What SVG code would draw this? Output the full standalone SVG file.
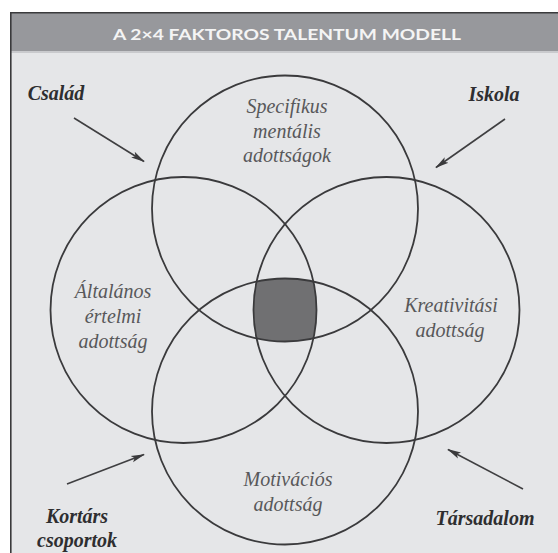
<svg xmlns="http://www.w3.org/2000/svg" width="558" height="553" viewBox="0 0 558 553">
<style>
.circle{fill:none;stroke:#3a3a3c;stroke-width:1.8}
.lbl{font-family:'Liberation Serif','Times New Roman',serif;font-style:italic;font-size:20px;fill:#58585a;text-anchor:middle}
.ext{font-family:'Liberation Serif','Times New Roman',serif;font-style:italic;font-weight:bold;font-size:20px;fill:#2e2e30;text-anchor:middle}
.arr{stroke:#3f3f41;stroke-width:1.6;fill:none;marker-end:url(#ah)}
</style>
<defs>
<marker id="ah" viewBox="0 0 14 8" refX="13" refY="4" markerWidth="14" markerHeight="8" markerUnits="userSpaceOnUse" orient="auto">
<path d="M0,0.6 L14,4 L0,7.4 L3,4 Z" fill="#3a3a3c"/>
</marker>
</defs>
<rect x="0" y="0" width="558" height="553" fill="#ffffff"/>
<rect x="10" y="12" width="548" height="541" fill="#e5e6e8"/>
<rect x="10" y="12" width="548" height="39" fill="#97989c"/>
<rect x="10" y="51" width="548" height="2" fill="#c9cacd"/>
<line x1="10" y1="12.8" x2="558" y2="12.8" stroke="#3a3a3c" stroke-width="1.6"/>
<line x1="10.8" y1="12" x2="10.8" y2="553" stroke="#3a3a3c" stroke-width="1.6"/>
<text x="287" y="40" font-family="Lato,'Open Sans',sans-serif" font-weight="bold" font-size="16" fill="#f4f4f4" text-anchor="middle" textLength="348" lengthAdjust="spacingAndGlyphs">A 2×4 FAKTOROS TALENTUM MODELL</text>

<g id="core">
<path d="M256.6,281.6 A133,133 0 0 1 313.4,281.6 A133,133 0 0 1 313.4,338.4 A133,133 0 0 1 256.6,338.4 A133,133 0 0 1 256.6,281.6 Z" fill="#707072"/>
</g>
<g id="specifikus">
<circle class="circle" cx="285" cy="208.5" r="133"/>
<text class="lbl" x="287" y="113">Specifikus</text>
<text class="lbl" x="287" y="137.5">mentális</text>
<text class="lbl" x="287" y="162">adottságok</text>
</g>
<g id="altalanos">
<circle class="circle" cx="183.5" cy="310" r="133"/>
<text class="lbl" x="113" y="298">Általános</text>
<text class="lbl" x="113" y="323">értelmi</text>
<text class="lbl" x="113" y="348">adottság</text>
</g>
<g id="kreativitasi">
<circle class="circle" cx="386.5" cy="310" r="133"/>
<text class="lbl" x="451" y="312">Kreativitási</text>
<text class="lbl" x="450" y="337">adottság</text>
</g>
<g id="motivacios">
<circle class="circle" cx="285" cy="411.5" r="133"/>
<text class="lbl" x="288" y="486">Motivációs</text>
<text class="lbl" x="288" y="511">adottság</text>
</g>
<g id="csalad"><text class="ext" x="56" y="100">Család</text></g>
<g id="iskola"><text class="ext" x="494" y="101">Iskola</text></g>
<g id="kortars"><text class="ext" x="77" y="523">Kortárs</text><text class="ext" x="77" y="547">csoportok</text></g>
<g id="tarsadalom"><text class="ext" x="485" y="525">Társadalom</text></g>
<g id="connectors">
<line class="arr" x1="74" y1="118" x2="144" y2="161.5"/>
<line class="arr" x1="505" y1="119" x2="436" y2="167.5"/>
<line class="arr" x1="67" y1="484" x2="144" y2="454.5"/>
<line class="arr" x1="523" y1="489" x2="448" y2="449.5"/>
</g>
</svg>
